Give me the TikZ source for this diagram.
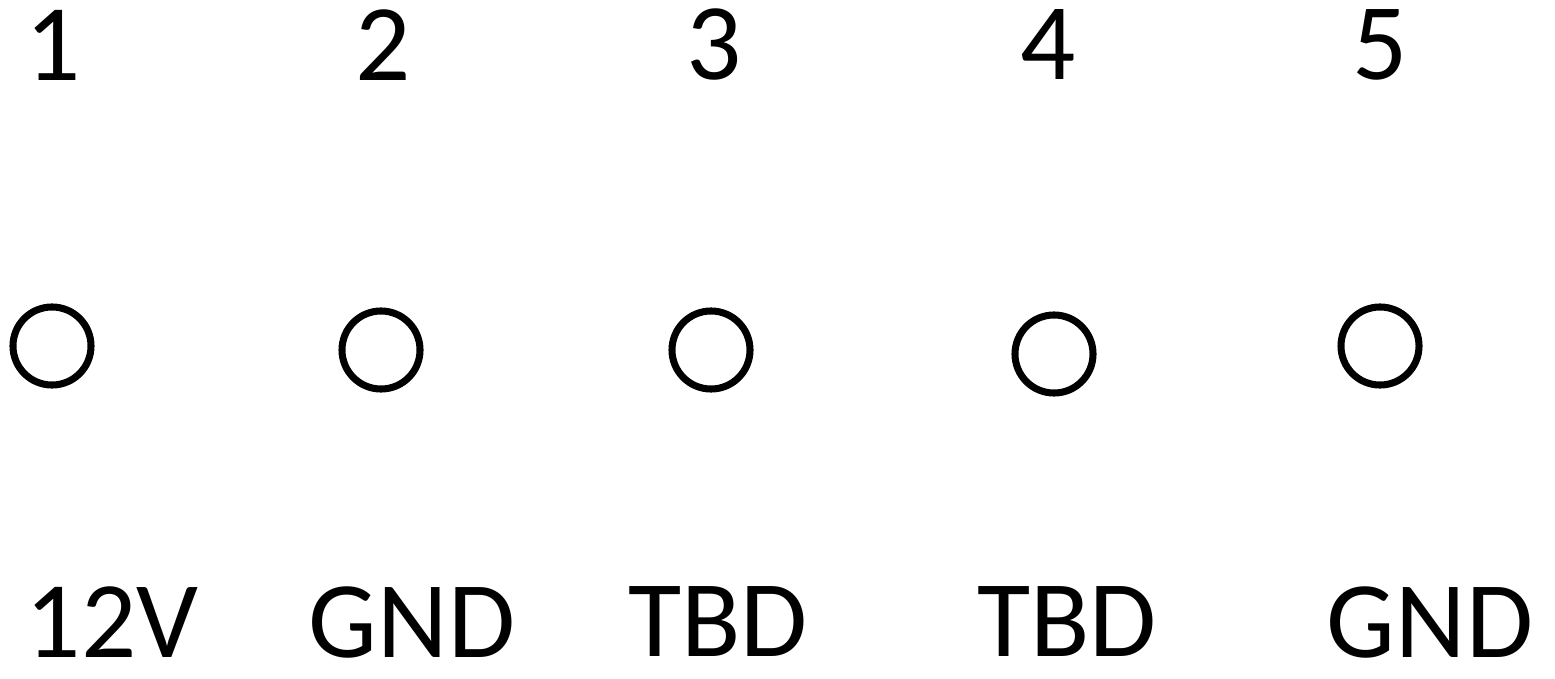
\documentclass[tikz,border=0pt]{standalone}
\usepackage{fontspec}
\setmainfont{Carlito}
\usepackage{tikz}

\begin{document}
\begin{tikzpicture}[x=0.01cm,y=-0.01cm,pin node/.style={circle,draw,line width=2pt,minimum size=0.78cm,inner sep=0pt},main node/.style={inner sep=0pt,font=\fontsize{31}{37}\selectfont}]
		
		\useasboundingbox (0,0) rectangle (1555,679);
		
		\node[main node] (n1) at (53,45) {1};
		\node[main node] (n2) at (383,45) {2};
		\node[main node] (n3) at (714,45) {3};
		\node[main node] (n4) at (1048,45) {4};
		\node[main node] (n5) at (1380,45) {5};
		
		\node[pin node] (p1) at (52,346) {};
		\node[pin node] (p2) at (381,350) {};
		\node[pin node] (p3) at (711,350) {};
		\node[pin node] (p4) at (1054,354) {};
		\node[pin node] (p5) at (1380,346) {};
		
		\node[main node] (l1) at (112,622) {12V};
		\node[main node] (l2) at (412,622) {GND};
		\node[main node] (l3) at (718,622) {TBD};
		\node[main node] (l4) at (1067,622) {TBD};
		\node[main node] (l5) at (1430,622) {GND};
		
		\end{tikzpicture}
\end{document}
